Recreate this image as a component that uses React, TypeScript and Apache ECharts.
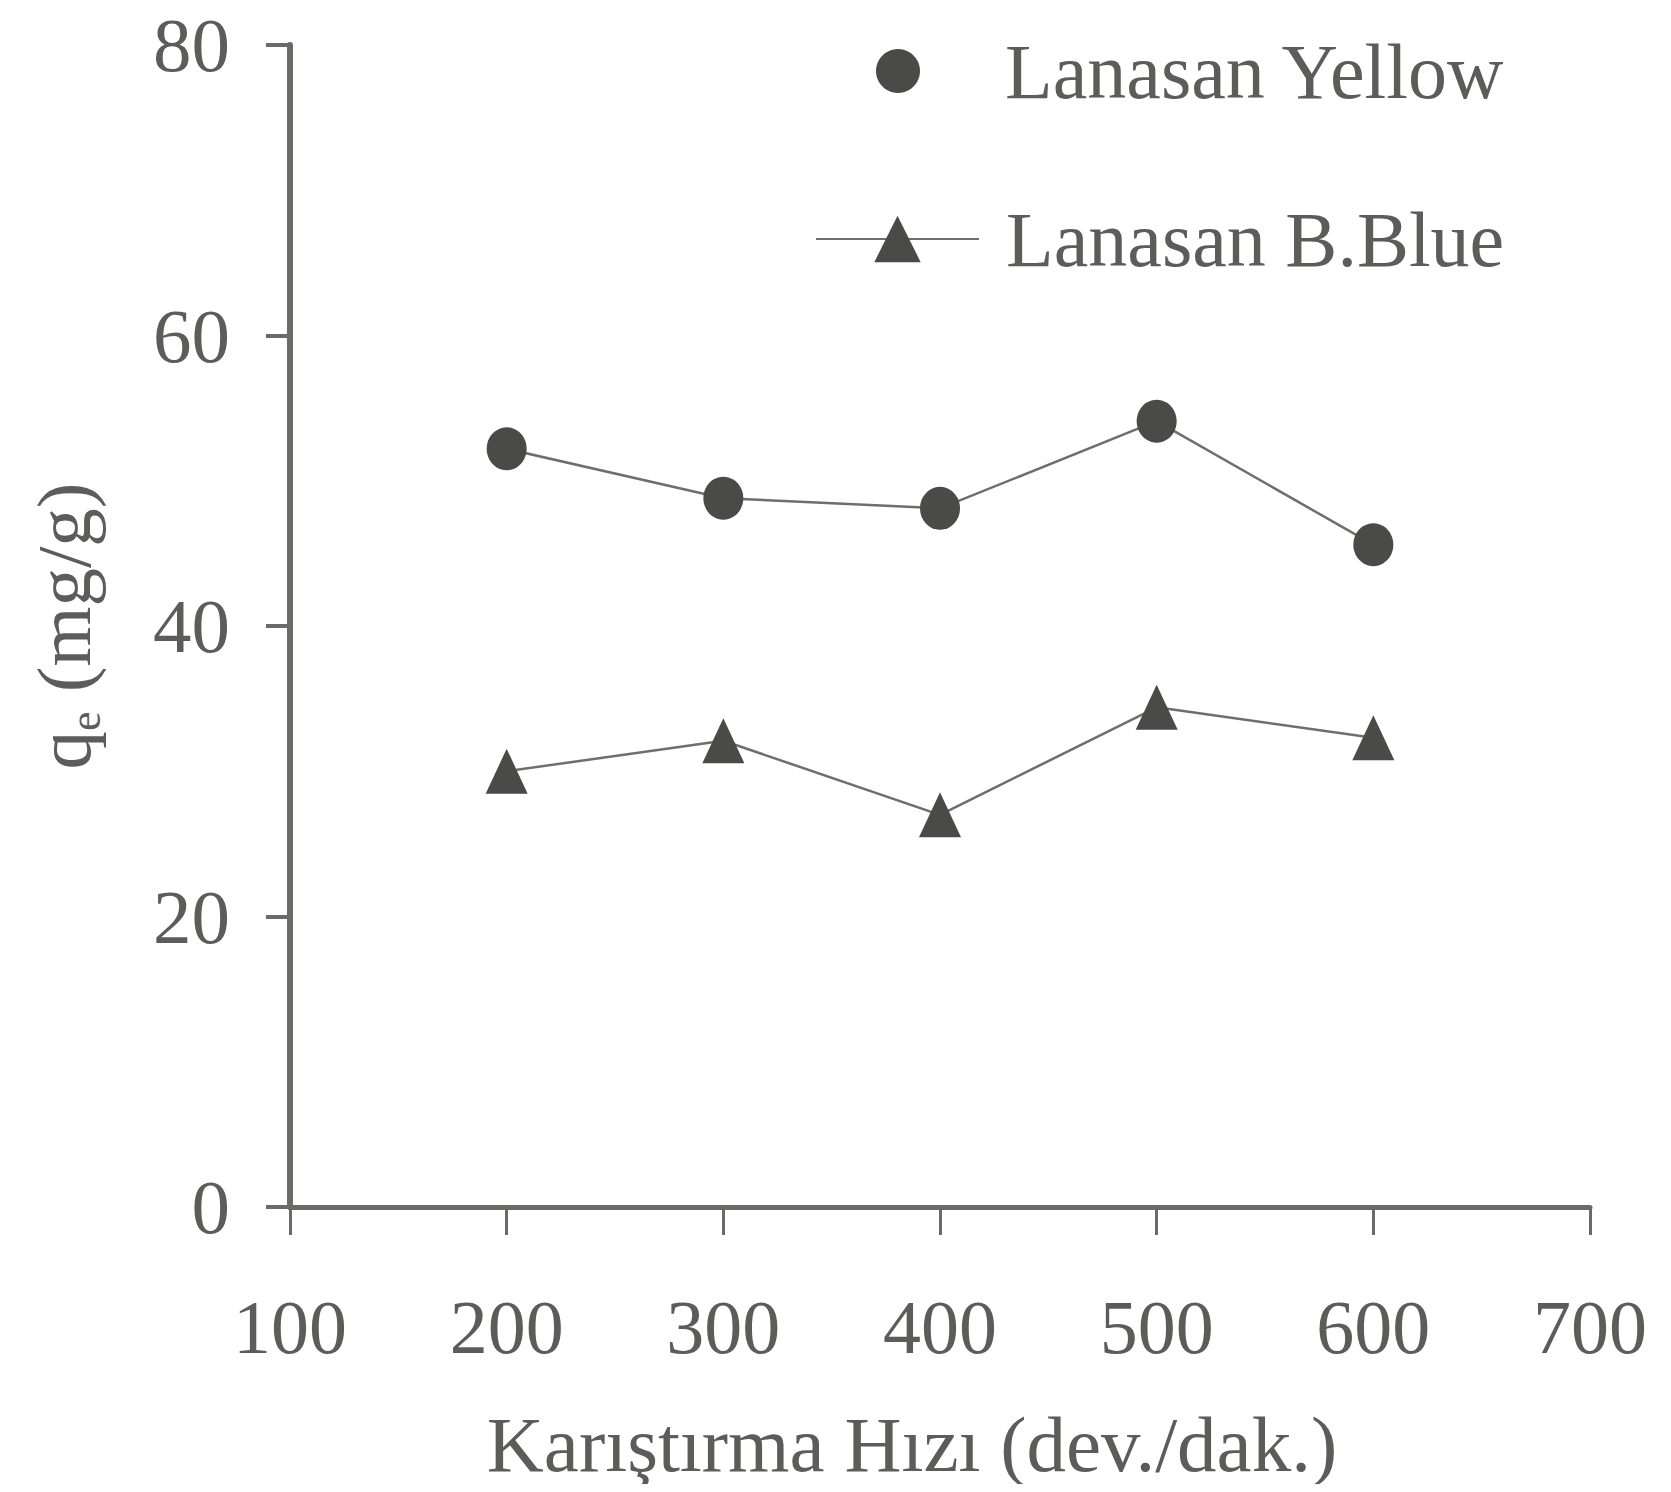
import React, { useEffect, useRef } from "react";
import * as echarts from "echarts";

const speeds = [200, 300, 400, 500, 600];
const yellowValues = [52.2, 48.8, 48.1, 54.1, 45.6];
const blueValues = [30.0, 32.1, 27.0, 34.4, 32.3];
const seriesNames = ["Lanasan Yellow", "Lanasan B.Blue"];
const xAxisTitle = "Karıştırma Hızı (dev./dak.)";
const xRange = { min: 100, max: 700, interval: 100 };
const yRange = { min: 0, max: 80, interval: 20 };

const FONT = "'Liberation Serif', 'DejaVu Serif', serif";
const TEXT = "#5c5c5a";
const AXIS = "#6a6a68";
const MARK = "#4a4a48";
const LINE = "#6e6e6c";

export default function App() {
  const ref = useRef<HTMLDivElement>(null);
  useEffect(() => {
    if (!ref.current) return;
    const chart = echarts.init(ref.current, undefined, { renderer: "svg" });
    const pair = (vals: number[]) => speeds.map((s, i) => [s, vals[i]]);
    chart.setOption({
      animation: false,
      backgroundColor: "#ffffff",
      grid: { left: 290, right: 81, top: 45, bottom: 285, containLabel: false },
      xAxis: {
        type: "value",
        min: xRange.min,
        max: xRange.max,
        interval: xRange.interval,
        splitLine: { show: false },
        axisLine: { show: true, lineStyle: { color: AXIS, width: 5 } },
        axisTick: { show: true, inside: false, length: 28, lineStyle: { color: AXIS, width: 3 } },
        axisLabel: { fontSize: 76, lineHeight: 76, fontFamily: FONT, color: TEXT, margin: 82 },
        name: xAxisTitle,
        nameLocation: "middle",
        nameGap: 198,
        nameTextStyle: { fontSize: 79, fontFamily: FONT, color: TEXT, padding: [0, 56, 0, 0] },
      },
      yAxis: {
        type: "value",
        min: yRange.min,
        max: yRange.max,
        interval: yRange.interval,
        splitLine: { show: false },
        axisLine: { show: true, lineStyle: { color: AXIS, width: 6 } },
        axisTick: { show: true, inside: false, length: 24, lineStyle: { color: AXIS, width: 4 } },
        axisLabel: { fontSize: 77, lineHeight: 60, fontFamily: FONT, color: TEXT, margin: 60 },
        name: "{a|q}{b|e}{a| (mg/g)}",
        nameLocation: "middle",
        nameGap: 188,
        nameTextStyle: {
          fontFamily: FONT,
          color: TEXT,
          rich: {
            a: { fontSize: 77, fontFamily: FONT, color: TEXT },
            b: { fontSize: 44, lineHeight: 44, fontFamily: FONT, color: TEXT, padding: [44, 0, 0, 0] },
          },
        },
      },
      legend: [
        {
          data: [{ name: seriesNames[0], icon: "circle" }],
          selectedMode: false,
          left: 876,
          top: 32,
          padding: 0,
          itemWidth: 44,
          itemHeight: 44,
          textStyle: { fontSize: 78, fontFamily: FONT, color: TEXT, padding: [0, 0, 0, 80] },
        },
        {
          data: [{ name: seriesNames[1] }],
          selectedMode: false,
          left: 815,
          top: 200,
          padding: 0,
          itemWidth: 163,
          itemHeight: 58,
          textStyle: { fontSize: 78, fontFamily: FONT, color: TEXT, padding: [0, 0, 0, 22] },
        },
      ],
      series: [
        {
          name: seriesNames[0],
          type: "line",
          data: pair(yellowValues),
          symbol: "circle",
          symbolSize: [40, 43],
          itemStyle: { color: MARK },
          lineStyle: { color: LINE, width: 2.5 },
        },
        {
          name: seriesNames[1],
          type: "line",
          data: pair(blueValues),
          symbol: "triangle",
          symbolSize: [42, 45],
          itemStyle: { color: MARK },
          lineStyle: { color: LINE, width: 2.5 },
        },
      ],
    });
    return () => chart.dispose();
  }, []);
  return <div ref={ref} style={{ width: 1671, height: 1492, margin: -8 }} />;
}
